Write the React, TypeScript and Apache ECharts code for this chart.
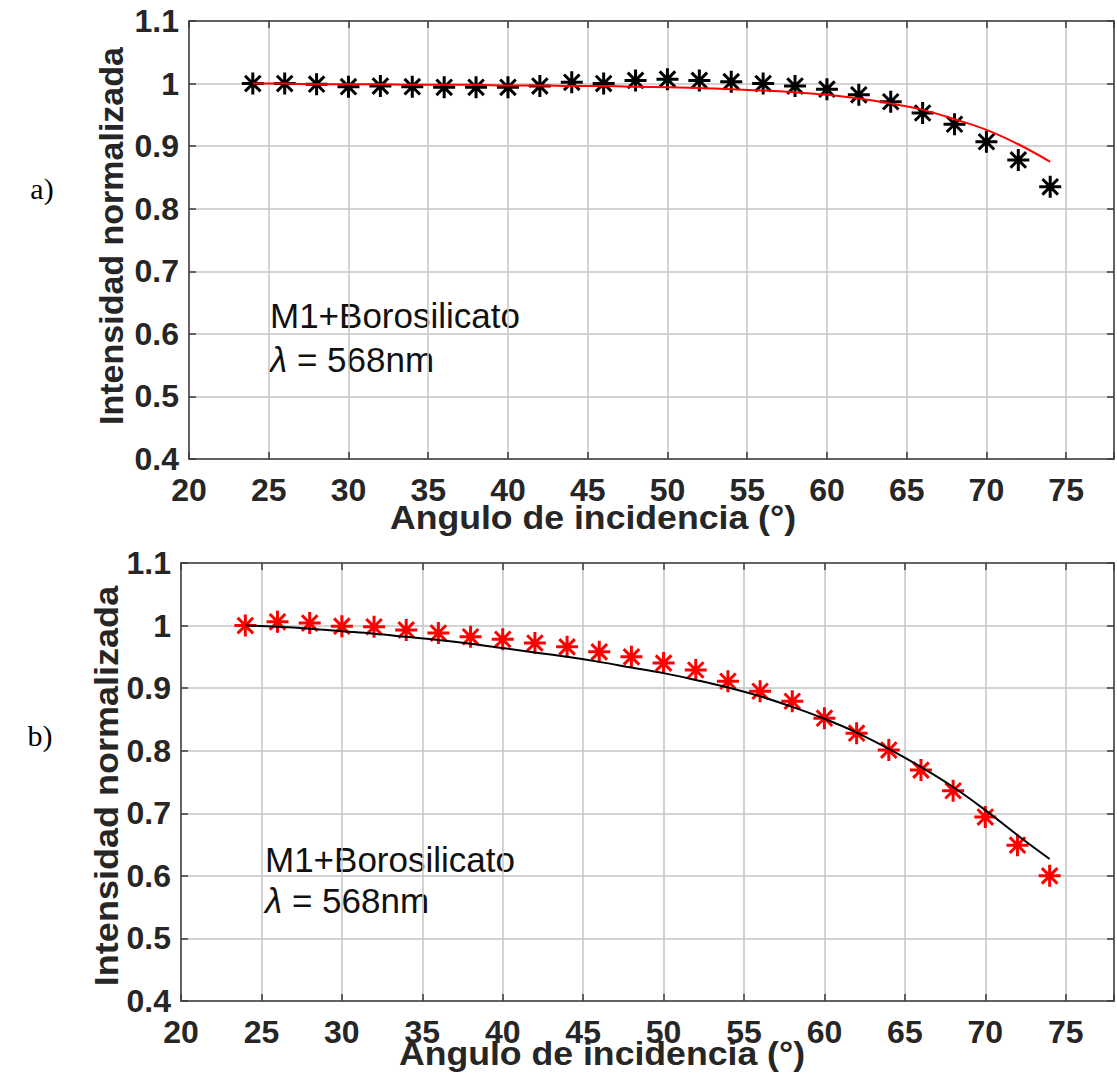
import React, { useEffect, useRef } from "react";
import * as echarts from "echarts";

const angles = [24, 26, 28, 30, 32, 34, 36, 38, 40, 42, 44, 46, 48, 50, 52, 54, 56, 58, 60, 62, 64, 66, 68, 70, 72, 74];

const aMeasured = [1.0, 1.0, 0.999, 0.995, 0.996, 0.995, 0.994, 0.994, 0.994, 0.996, 1.002, 1.0, 1.005, 1.007, 1.005, 1.003, 1.0, 0.996, 0.991, 0.982, 0.971, 0.953, 0.935, 0.907, 0.878, 0.835];
const aFit = [1.0, 1.0, 0.999, 0.999, 0.999, 0.998, 0.998, 0.998, 0.997, 0.997, 0.996, 0.996, 0.995, 0.994, 0.993, 0.991, 0.989, 0.986, 0.982, 0.976, 0.968, 0.958, 0.943, 0.926, 0.903, 0.875];

const bMeasured = [1.0, 1.006, 1.004, 0.999, 0.998, 0.993, 0.988, 0.982, 0.978, 0.972, 0.966, 0.958, 0.95, 0.94, 0.929, 0.911, 0.895, 0.879, 0.852, 0.828, 0.801, 0.769, 0.736, 0.694, 0.649, 0.6];
const bFit = [1.0, 0.998, 0.995, 0.991, 0.987, 0.982, 0.977, 0.971, 0.964, 0.957, 0.95, 0.942, 0.933, 0.924, 0.913, 0.901, 0.887, 0.87, 0.851, 0.829, 0.803, 0.774, 0.742, 0.705, 0.665, 0.627];

const xTitle = "Angulo de incidencia (°)";
const yTitle = "Intensidad normalizada";
const sampleLabel = "M1+Borosilicato";
const lambdaLabel = "{i|λ}{n| = 568nm}";

const FONT = "'Liberation Sans', Arial, Helvetica, sans-serif";
const TXT = "#262626";
const AXIS = "#3c3c3c";
const GRIDC = "#c4c4c4";
const STAR = "path://M11,0L11,22M0,11L22,11M3.22,3.22L18.78,18.78M18.78,3.22L3.22,18.78";

const zip = (xs: number[], ys: number[]) => xs.map((x, i) => [x, ys[i]]);

function xAxes(gi: number) {
  const common = {
    gridIndex: gi,
    type: "value" as const,
    min: 20,
    max: 78,
    interval: 5,
    axisLine: { show: true, onZero: false, lineStyle: { color: AXIS, width: 1.5 } },
    axisTick: { show: true, inside: true, length: 7, lineStyle: { color: AXIS, width: 1.5 } },
  };
  return [
    {
      ...common,
      position: "bottom",
      axisLabel: {
        show: true,
        margin: 15,
        fontSize: 32,
        fontWeight: "bold",
        fontFamily: FONT,
        color: TXT,
        formatter: (v: number) => (v % 5 === 0 ? String(v) : ""),
      },
      splitLine: { show: true, lineStyle: { color: GRIDC, width: 1.5 } },
    },
    {
      ...common,
      position: "top",
      axisLabel: { show: false },
      splitLine: { show: false },
    },
  ];
}

function yAxes(gi: number) {
  const common = {
    gridIndex: gi,
    type: "value" as const,
    min: 0.4,
    max: 1.1,
    interval: 0.1,
    axisLine: { show: true, onZero: false, lineStyle: { color: AXIS, width: 1.5 } },
    axisTick: { show: true, inside: true, length: 7, lineStyle: { color: AXIS, width: 1.5 } },
  };
  return [
    {
      ...common,
      position: "left",
      axisLabel: {
        show: true,
        margin: 10,
        fontSize: 32,
        fontWeight: "bold",
        fontFamily: FONT,
        color: TXT,
        formatter: (v: number) => String(+v.toFixed(1)),
      },
      splitLine: { show: true, lineStyle: { color: GRIDC, width: 1.5 } },
    },
    {
      ...common,
      position: "right",
      axisLabel: { show: false },
      splitLine: { show: false },
    },
  ];
}

function starSeries(xi: number, yi: number, data: number[][], color: string) {
  return {
    type: "scatter",
    xAxisIndex: xi,
    yAxisIndex: yi,
    data,
    symbol: STAR,
    symbolSize: 22,
    itemStyle: { color, borderColor: color, borderWidth: 3, opacity: 1 },
    z: 2,
  };
}

function fitSeries(xi: number, yi: number, data: number[][], color: string) {
  return {
    type: "line",
    xAxisIndex: xi,
    yAxisIndex: yi,
    data,
    showSymbol: false,
    smooth: 0.4,
    lineStyle: { color, width: 2 },
    z: 3,
  };
}

function txt(x: number, y: number, text: string, extra: any = {}, styleExtra: any = {}) {
  return {
    type: "text",
    x,
    y,
    ...extra,
    style: {
      text,
      fill: TXT,
      font: `bold 33px ${FONT}`,
      align: "center",
      verticalAlign: "middle",
      ...styleExtra,
    },
  };
}

function annotation(x: number, y1: number, y2: number) {
  return [
    {
      type: "text",
      x,
      y: y1,
      style: {
        text: sampleLabel,
        fill: "#111",
        font: `35px ${FONT}`,
        align: "left",
        verticalAlign: "middle",
      },
    },
    {
      type: "text",
      x,
      y: y2,
      style: {
        text: lambdaLabel,
        fill: "#111",
        font: `35px ${FONT}`,
        align: "left",
        verticalAlign: "middle",
        rich: {
          i: { fontStyle: "italic", fontSize: 35, fontFamily: FONT, fill: "#111" },
          n: { fontSize: 35, fontFamily: FONT, fill: "#111" },
        },
      },
    },
  ];
}

export default function App() {
  const ref = useRef<HTMLDivElement>(null);
  useEffect(() => {
    if (!ref.current) return;
    const chart = echarts.init(ref.current, undefined, { renderer: "svg" });
    chart.setOption({
      animation: false,
      backgroundColor: "#ffffff",
      grid: [
        { left: 189, top: 21, width: 937, height: 438, containLabel: false },
        { left: 181, top: 563, width: 935, height: 438, containLabel: false },
      ],
      xAxis: [...xAxes(0), ...xAxes(1)],
      yAxis: [...yAxes(0), ...yAxes(1)],
      series: [
        starSeries(0, 0, zip(angles, aMeasured), "#000000"),
        fitSeries(0, 0, zip(angles, aFit), "#ff0000"),
        starSeries(2, 2, zip(angles, bMeasured), "#ff0000"),
        fitSeries(2, 2, zip(angles, bFit), "#000000"),
      ],
      graphic: [
        txt(42, 188, "a)", {}, { font: `30px 'Liberation Serif', 'Times New Roman', serif`, fill: "#000" }),
        txt(40, 735, "b)", {}, { font: `30px 'Liberation Serif', 'Times New Roman', serif`, fill: "#000" }),
        txt(593, 517, xTitle, { scaleX: 1.08 }),
        txt(602, 1053, xTitle, { scaleX: 1.08 }),
        txt(111, 236, yTitle, { rotation: Math.PI / 2 }, { font: `bold 34px ${FONT}` }),
        txt(106, 786, yTitle, { rotation: Math.PI / 2, scaleX: 1.06 }, { font: `bold 34px ${FONT}` }),
        ...annotation(270, 315.5, 359.5),
        ...annotation(265, 859, 900),
      ],
    });
    return () => chart.dispose();
  }, []);
  return (
    <div
      ref={ref}
      style={{ position: "absolute", left: 0, top: 0, width: 1117, height: 1073 }}
    />
  );
}
